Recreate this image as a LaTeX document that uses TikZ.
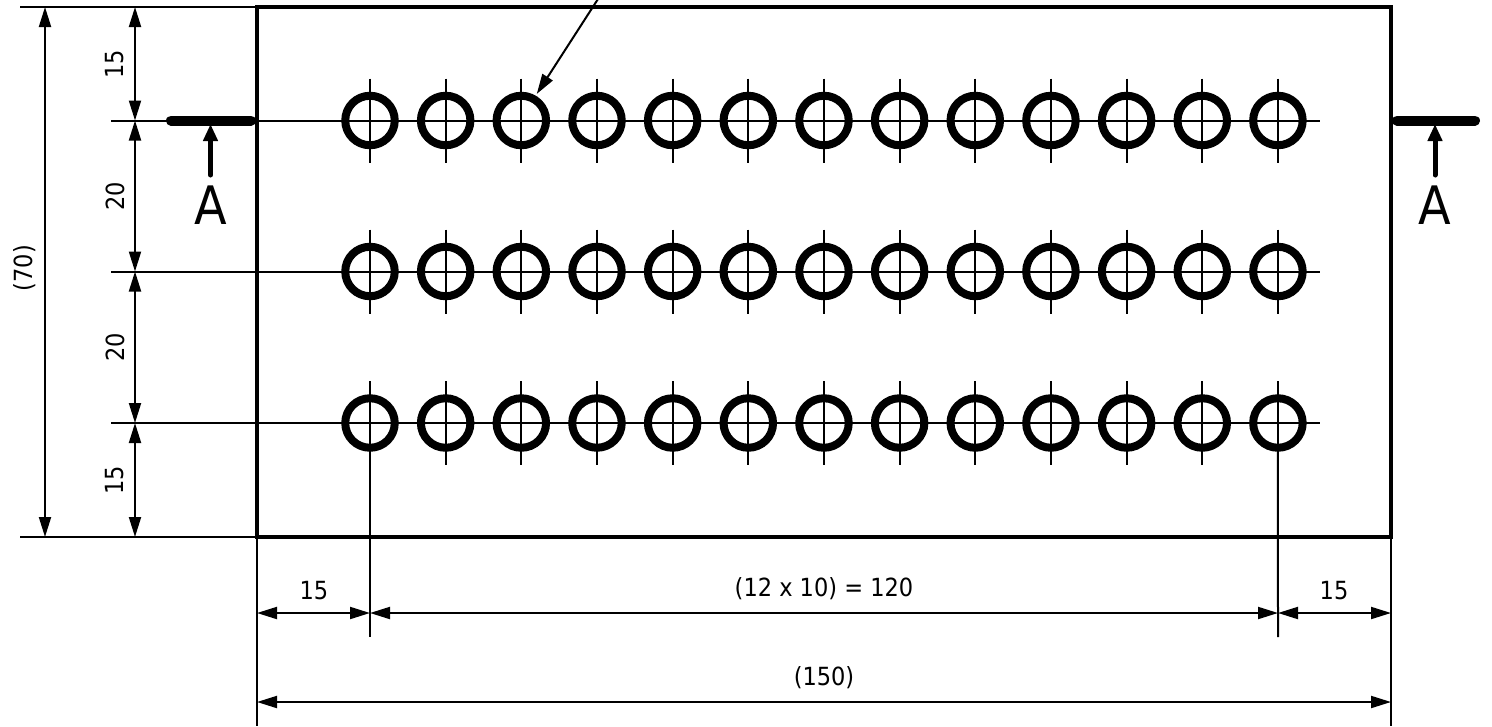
\documentclass[tikz,border=0pt]{standalone}
\usepackage{fontspec}
\setmainfont[FakeStretch=0.9]{DejaVu Sans}
\usetikzlibrary{arrows.meta}

\tikzset{
    thin line/.style={line width=2pt},
    plate line/.style={line width=3.4pt},
    hole/.style={circle, draw, line width=8pt, minimum size=49.5pt, inner sep=0pt},
    dim/.style={thin line, {Triangle[length=20pt,width=12pt]}-{Triangle[length=20pt,width=12pt]}},
    dimtext/.style={font=\fontsize{25}{30}\selectfont, inner sep=0pt},
    cut line/.style={line width=10pt, line cap=round},
    cut arrow/.style={line width=5pt, line cap=round, -{Triangle[length=17pt,width=14pt]}},
    cut text/.style={font=\fontsize{53}{60}\selectfont, inner sep=0pt}
}

\begin{document}
\begin{tikzpicture}[x=1pt, y=-1pt]
    \useasboundingbox (0,0) rectangle (1492,726);

    % Plate
    \coordinate (tl) at (257,7);
    \coordinate (tr) at (1391,7);
    \coordinate (bl) at (257,537);
    \coordinate (br) at (1391,537);
    \draw[plate line] (tl) -- (tr) -- (br) -- (bl) -- cycle;

    % Centre lines
    \foreach \row/\y in {1/120.5, 2/271.5, 3/423} {
        \coordinate (rowa\row) at (111,\y);
        \coordinate (rowb\row) at (1320,\y);
        \draw[thin line] (rowa\row) -- (rowb\row);
    }

    % Holes
    \foreach \row/\y in {1/120.5, 2/271.5, 3/423} {
        \foreach \col in {0,...,12} {
            \pgfmathsetmacro{\x}{370+75.66*\col}
            \node[hole] (hole\row-\col) at (\x,\y) {};
            \coordinate (tick\row-\col) at (\x,\y-42);
            \coordinate (tock\row-\col) at (\x,\y+42);
            \draw[thin line] (tick\row-\col) -- (tock\row-\col);
        }
    }

    % Leader at the top
    \coordinate (leader) at (598,-1);
    \draw[thin line, shorten >=2pt, -{Triangle[length=20pt,width=12pt]}] (leader) -- (hole1-2.60);

    % Extension lines
    \coordinate (ta) at (20,7);
    \coordinate (ba) at (20,537);
    \draw[thin line] (ta) -- (tl);
    \draw[thin line] (ba) -- (bl);
    \coordinate (la) at (257,726);
    \coordinate (ra) at (1391,726);
    \draw[thin line] (bl) -- (la);
    \draw[thin line] (br) -- (ra);
    \coordinate (fa) at (370,637);
    \coordinate (fb) at (1278,637);
    \draw[thin line] (hole3-0.south) -- (fa);
    \draw[thin line] (hole3-12.south) -- (fb);

    % Vertical dimensions
    \coordinate (d1) at (135,7);
    \coordinate (d2) at (135,120.5);
    \coordinate (d3) at (135,271.5);
    \coordinate (d4) at (135,423);
    \coordinate (d5) at (135,537);
    \coordinate (e1) at (45,7);
    \coordinate (e2) at (45,537);
    \draw[dim] (d1) -- (d2);
    \draw[dim] (d2) -- (d3);
    \draw[dim] (d3) -- (d4);
    \draw[dim] (d4) -- (d5);
    \draw[dim] (e1) -- (e2);
    \node[dimtext, rotate=90] (t15a) at (115,64) {15};
    \node[dimtext, rotate=90] (t20a) at (115,196) {20};
    \node[dimtext, rotate=90] (t20b) at (115,347) {20};
    \node[dimtext, rotate=90] (t15b) at (115,480) {15};
    \node[dimtext, rotate=90] (t70) at (25,268) {(70)};

    % Horizontal dimensions
    \coordinate (h1) at (257,613);
    \coordinate (h2) at (370,613);
    \coordinate (h3) at (1278,613);
    \coordinate (h4) at (1391,613);
    \coordinate (w1) at (257,702);
    \coordinate (w2) at (1391,702);
    \draw[dim] (h1) -- (h2);
    \draw[dim] (h2) -- (h3);
    \draw[dim] (h3) -- (h4);
    \draw[dim] (w1) -- (w2);
    \node[dimtext] (t15c) at (314,591) {15};
    \node[dimtext] (t120) at (824,589) {(12 x 10) = 120};
    \node[dimtext] (t15d) at (1334,591) {15};
    \node[dimtext] (t150) at (824,678) {(150)};

    % Section marks
    \foreach \name/\a/\b in {l/171/251, r/1397/1475} {
        \coordinate (cuta\name) at (\a,120.5);
        \coordinate (cutb\name) at (\b,120.5);
        \draw[cut line] (cuta\name) -- (cutb\name);
    }
    \foreach \name/\x in {l/210.5, r/1435} {
        \coordinate (arra\name) at (\x,175);
        \coordinate (arrb\name) at (\x,124);
        \draw[cut arrow] (arra\name) -- (arrb\name);
        \node[cut text] (mark\name) at (\x,205.5) {A};
    }
\end{tikzpicture}
\end{document}
